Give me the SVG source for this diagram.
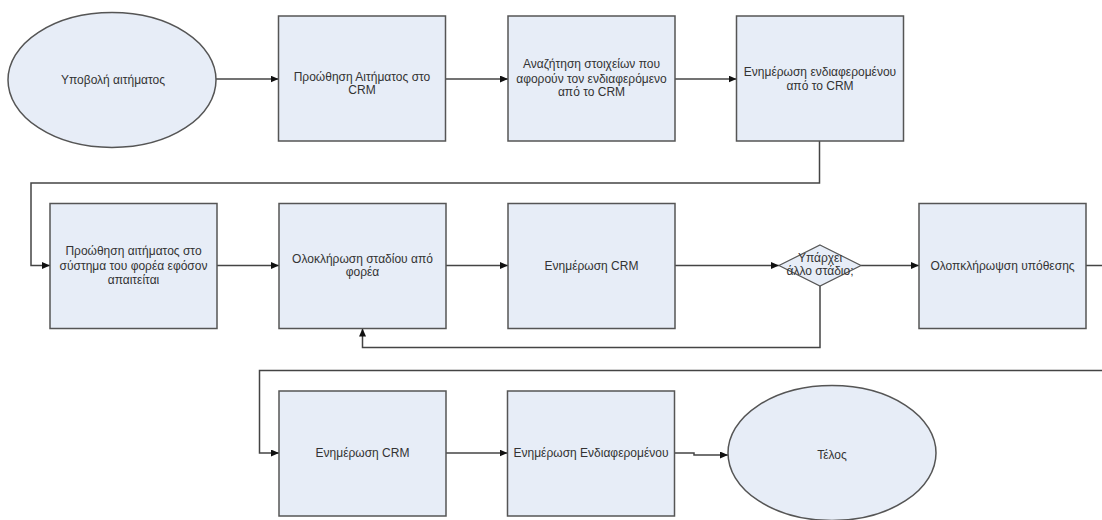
<svg xmlns="http://www.w3.org/2000/svg" width="1102" height="520" viewBox="0 0 1102 520">
<style>
.n{fill:#E7EDF7;stroke:#555;stroke-width:1.5}
.t{font-family:"Liberation Sans",Arial,sans-serif;font-size:12px;fill:#333;text-anchor:middle;dominant-baseline:central}
.c{fill:none;stroke:#444;stroke-width:1.5}
</style>
<defs>
<marker id="ah" markerUnits="userSpaceOnUse" markerWidth="9" markerHeight="8" refX="8" refY="3.5" orient="auto">
<path d="M0,0 L8,3.5 L0,7 z" fill="#111"/>
</marker>
</defs>
<rect width="1102" height="520" fill="#fff"/>
<g id="connectors">
<path class="c" d="M216,79 H278.5" marker-end="url(#ah)"/>
<path class="c" d="M445.5,79 H508" marker-end="url(#ah)"/>
<path class="c" d="M675,79 H736.5" marker-end="url(#ah)"/>
<path class="c" d="M819.5,141 V183 H31 V265.5 H50" marker-end="url(#ah)"/>
<path class="c" d="M217,265.5 H279" marker-end="url(#ah)"/>
<path class="c" d="M446,265.5 H508" marker-end="url(#ah)"/>
<path class="c" d="M675,265.5 H779" marker-end="url(#ah)"/>
<path class="c" d="M861,265.5 H919" marker-end="url(#ah)"/>
<path class="c" d="M820,286 V347.5 H362.5 V328.5" marker-end="url(#ah)"/>
<path class="c" d="M1086,265.5 H1112 V370.5 H259.5 V453 H279" marker-end="url(#ah)"/>
<path class="c" d="M446,453 H507.5" marker-end="url(#ah)"/>
<path class="c" d="M674.5,453 H694 V455 H728" marker-end="url(#ah)"/>
</g>
<g id="start">
<ellipse class="n" cx="112" cy="80" rx="104" ry="67.5"/>
<text class="t" x="113" y="80">Υποβολή αιτήματος</text>
</g>
<g id="n1">
<rect class="n" x="278.5" y="16" width="167" height="125"/>
<text class="t" x="362" y="77">Προώθηση Αιτήματος στο</text>
<text class="t" x="362" y="90">CRM</text>
</g>
<g id="n2">
<rect class="n" x="508" y="16" width="167" height="125"/>
<text class="t" x="591.5" y="64">Αναζήτηση στοιχείων που</text>
<text class="t" x="591.5" y="78.5">αφορούν τον ενδιαφερόμενο</text>
<text class="t" x="591.5" y="92">από το CRM</text>
</g>
<g id="n3">
<rect class="n" x="736.5" y="16" width="167" height="125"/>
<text class="t" x="820" y="72">Ενημέρωση ενδιαφερομένου</text>
<text class="t" x="820" y="85.5">από το CRM</text>
</g>
<g id="n4">
<rect class="n" x="50" y="203.5" width="167" height="125"/>
<text class="t" x="133.5" y="251">Προώθηση αιτήματος στο</text>
<text class="t" x="133.5" y="265.5">σύστημα του φορέα εφόσον</text>
<text class="t" x="133.5" y="279.5">απαιτείται</text>
</g>
<g id="n5">
<rect class="n" x="279" y="203.5" width="167" height="125"/>
<text class="t" x="362.5" y="259">Ολοκλήρωση σταδίου από</text>
<text class="t" x="362.5" y="272">φορέα</text>
</g>
<g id="n6">
<rect class="n" x="508" y="203.5" width="167" height="125"/>
<text class="t" x="591.5" y="265.5">Ενημέρωση CRM</text>
</g>
<g id="decision">
<polygon class="n" points="820,245 861,265.5 820,286 779,265.5" style="stroke-width:1.2"/>
<text class="t" x="820" y="258">Υπάρχει</text>
<text class="t" x="820" y="271">άλλο στάδιο;</text>
</g>
<g id="n7">
<rect class="n" x="919" y="203.5" width="167" height="125"/>
<text class="t" x="1002.5" y="265.5">Ολοπκλήρωψση υπόθεσης</text>
</g>
<g id="n8">
<rect class="n" x="279" y="391" width="167" height="125"/>
<text class="t" x="362.5" y="453">Ενημέρωση CRM</text>
</g>
<g id="n9">
<rect class="n" x="507.5" y="391" width="167" height="125"/>
<text class="t" x="591" y="453">Ενημέρωση Ενδιαφερομένου</text>
</g>
<g id="end">
<ellipse class="n" cx="832" cy="453" rx="104" ry="67.5"/>
<text class="t" x="832" y="455">Τέλος</text>
</g>
</svg>
